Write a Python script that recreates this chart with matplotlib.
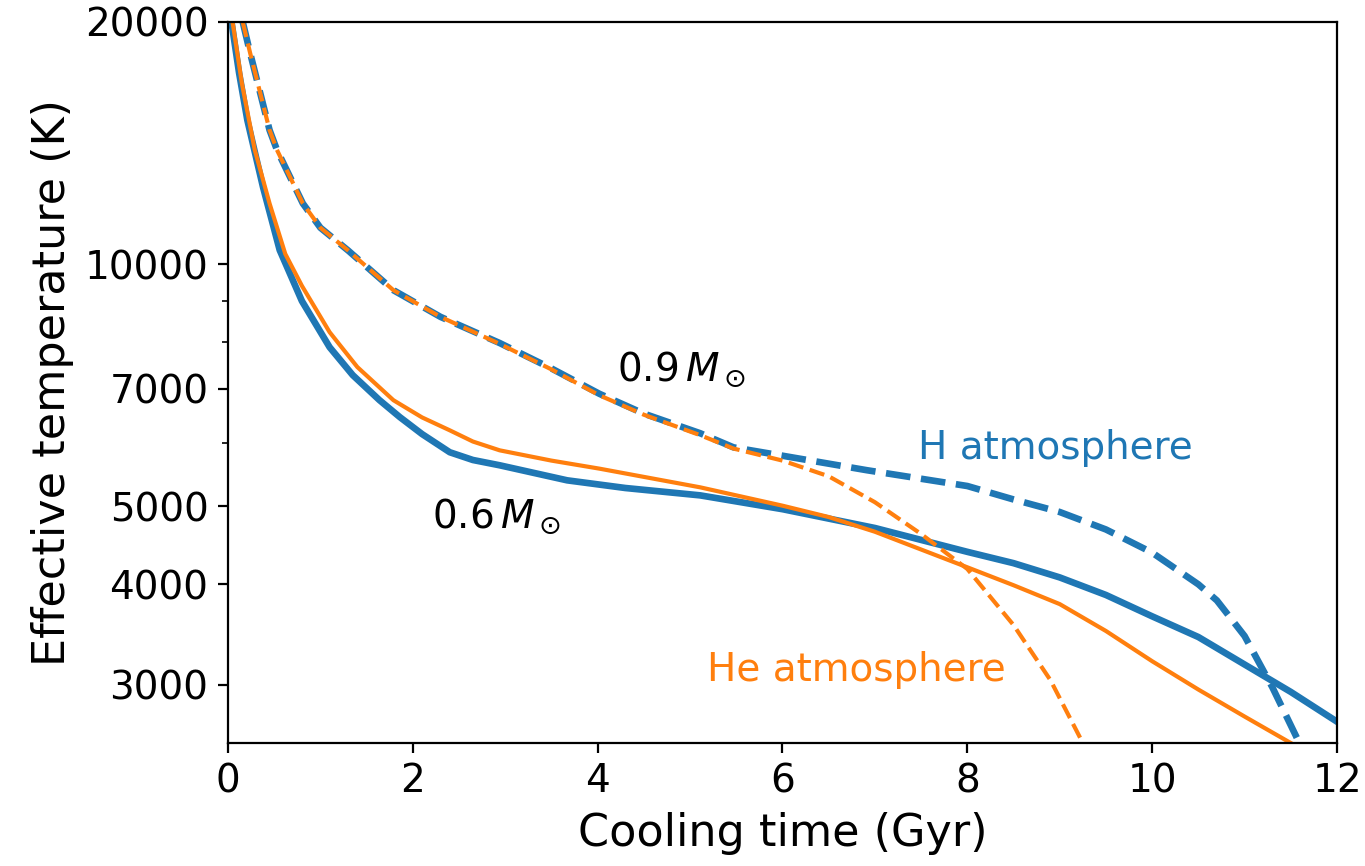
import numpy as np
import matplotlib
matplotlib.use("Agg")
import matplotlib.pyplot as plt
from matplotlib.ticker import NullFormatter

# cooling tracks: time (Gyr) vs effective temperature (K)
t_06_H = [0.04, 0.12, 0.21, 0.38, 0.56, 0.8, 1.1, 1.35, 1.64, 1.86, 2.1, 2.4, 2.65, 2.94,
          3.67, 4.3, 5.11, 6.0, 7.0, 8.0, 8.5, 9.0, 9.5, 10.0, 10.5, 11.0, 11.5, 12.0]
T_06_H = [19940, 17300, 15100, 12460, 10410, 9000, 7885, 7280, 6776, 6455, 6150, 5838, 5710, 5624,
          5387, 5270, 5160, 4960, 4700, 4390, 4250, 4080, 3880, 3650, 3440, 3180, 2940, 2700]

t_06_He = [0.05, 0.15, 0.29, 0.45, 0.62, 0.8, 1.1, 1.4, 1.79, 2.1, 2.4, 2.65, 2.94,
           3.5, 4.02, 5.11, 6.0, 6.5, 7.0, 8.0, 8.5, 9.0, 9.5, 10.0, 10.5, 11.0, 11.5]
T_06_He = [20000, 16800, 13870, 11900, 10300, 9400, 8232, 7450, 6776, 6450, 6216, 6020, 5870,
           5700, 5570, 5280, 5010, 4850, 4650, 4200, 3990, 3780, 3500, 3210, 2960, 2740, 2540]

t_09_H = [0.16, 0.24, 0.45, 0.53, 0.81, 1.0, 1.3, 1.79, 2.3, 2.94, 3.5, 4.02, 4.5,
          5.11, 5.47, 6.0, 6.91, 8.0, 8.5, 9.0, 9.5, 10.0, 10.5, 10.7, 11.0, 11.3, 11.6]
T_09_H = [20000, 18300, 14680, 13870, 11900, 11100, 10400, 9283, 8600, 7980, 7420, 6900, 6520,
          6164, 5920, 5780, 5546, 5300, 5100, 4920, 4680, 4380, 4000, 3820, 3450, 2980, 2530]

t_09_He = [0.16, 0.24, 0.45, 0.53, 0.81, 1.0, 1.3, 1.79, 2.3, 2.94, 3.5, 4.02, 4.5,
           5.11, 5.47, 6.0, 6.5, 7.0, 7.5, 8.0, 8.5, 8.9, 9.25]
T_09_He = [20000, 18300, 14680, 13870, 11900, 11100, 10400, 9283, 8600, 7960, 7400, 6870, 6500,
           6130, 5900, 5700, 5450, 5060, 4620, 4180, 3560, 3040, 2540]

yticks = [3000, 4000, 5000, 7000, 10000, 20000]
yminor = [6000, 8000, 9000]

fig = plt.figure(figsize=(6.825, 4.33), dpi=200)
ax = fig.add_axes([0.167, 0.142, 0.8125, 0.8326])

ax.plot(t_06_H, T_06_H, color='C0', lw=2.4)
ax.plot(t_09_H, T_09_H, color='C0', lw=2.4, ls='--')
ax.plot(t_06_He, T_06_He, color='C1', lw=1.5)
ax.plot(t_09_He, T_09_He, color='C1', lw=1.5, ls='--')

ax.set_yscale('log')
ax.set_xlim(0, 12)
ax.set_ylim(2540, 20000)
ax.set_yticks(yticks)
ax.set_yticklabels([str(v) for v in yticks])
ax.set_yticks(yminor, minor=True)
ax.yaxis.set_minor_formatter(NullFormatter())
ax.set_xticks([0, 2, 4, 6, 8, 10, 12])
ax.tick_params(labelsize=14)

ax.set_xlabel('Cooling time (Gyr)', fontsize=16)
ax.set_ylabel('Effective temperature (K)', fontsize=16)

ax.text(4.21, 7170, r'$0.9\,M_\odot$', fontsize=14, va='baseline')
ax.text(2.21, 4700, r'$0.6\,M_\odot$', fontsize=14, va='baseline')
ax.text(7.47, 5730, 'H atmosphere', fontsize=14, color='C0', va='baseline')
ax.text(5.18, 3030, 'He atmosphere', fontsize=14, color='C1', va='baseline')

fig.savefig('out.png', dpi=200)
